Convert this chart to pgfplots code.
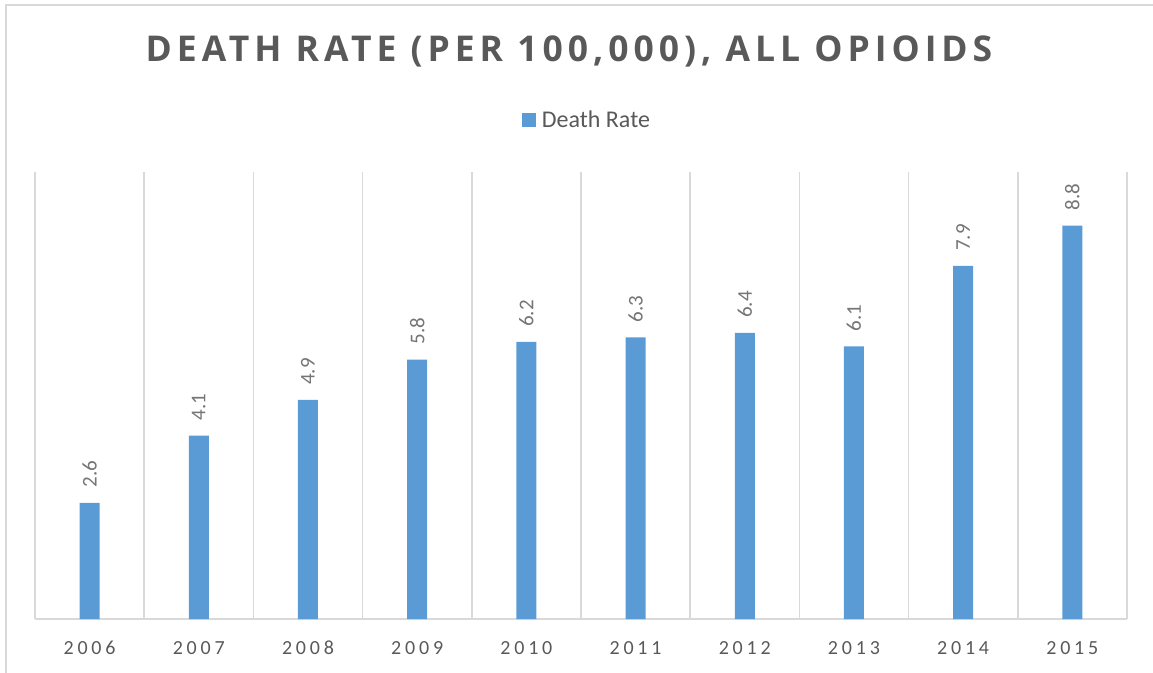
\documentclass[border=0pt]{standalone}
\usepackage{fontspec}
\setmainfont{Carlito}
\newfontfamily\titlefont[LetterSpace=14]{Open Sans}
\newfontfamily\tickfont[LetterSpace=19]{Carlito}
\usepackage{pgfplots}
\pgfplotsset{compat=1.18}
\definecolor{barblue}{HTML}{5B9BD5}
\definecolor{gridgray}{HTML}{D9D9D9}
\definecolor{txtgray}{HTML}{595959}
\definecolor{lblgray}{HTML}{757575}
\begin{document}
\begin{tikzpicture}
\path[use as bounding box] (0,0) rectangle (1153bp,673bp);
\draw[gridgray, line width=1.5bp] (6bp,-10bp) -- (6bp,668bp) -- (1170bp,668bp);
\node[text=txtgray, inner sep=0pt, anchor=center] at (569bp,622bp)
  {\titlefont\bfseries\fontsize{35.5bp}{40bp}\selectfont DEATH RATE (PER 100,000), ALL OPIOIDS};
\begin{axis}[
  at={(35bp,54bp)}, anchor=south west,
  scale only axis, width=1092bp, height=447bp,
  ybar, bar width=20bp,
  xmin=-0.5, xmax=9.5, ymin=0, ymax=10,
  axis x line=bottom, axis y line=none,
  x axis line style={-, draw=gridgray, line width=1.5bp},
  xtick={0,...,9},
  xticklabels={2006,2007,2008,2009,2010,2011,2012,2013,2014,2015},
  major tick length=0pt, minor tick length=0pt,
  minor xtick={-0.5,0.5,...,9.5},
  xminorgrids=true,
  minor x grid style={draw=gridgray, line width=1.5bp},
  ytick=\empty,
  xticklabel style={anchor=center, yshift=-29bp, text=txtgray, font=\tickfont\fontsize{20bp}{24bp}\selectfont},
  nodes near coords,
  nodes near coords style={rotate=90, anchor=west, inner xsep=15bp, inner ysep=0pt, text=lblgray, font=\fontsize{21bp}{24bp}\selectfont,
    /pgf/number format/assume math mode=true,
    /pgf/number format/fixed, /pgf/number format/precision=1, /pgf/number format/fixed zerofill},
  legend style={at={(0.5055,1.1163)}, anchor=center, draw=none, fill=none,
    font=\fontsize{24bp}{28bp}\selectfont, text=txtgray, inner sep=0pt,
    /tikz/every odd column/.style={column sep=4bp}},
  legend image code/.code={\fill[barblue] (0bp,-7bp) rectangle (14bp,7bp);},
  clip=false,
]
\addplot[fill=barblue, draw=none] coordinates {
  (0,2.6) (1,4.1) (2,4.9) (3,5.8) (4,6.2) (5,6.3) (6,6.4) (7,6.1) (8,7.9) (9,8.8)
};
\addlegendentry{Death Rate}
\end{axis}
\end{tikzpicture}
\end{document}
